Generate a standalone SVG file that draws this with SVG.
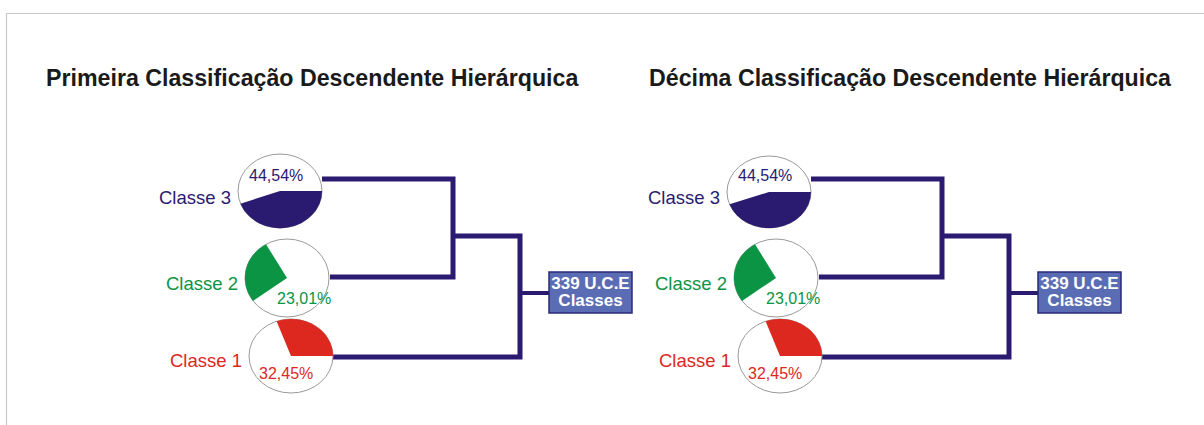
<svg xmlns="http://www.w3.org/2000/svg" width="1204" height="425" viewBox="0 0 1204 425">
<style>
.title{font-family:"Liberation Sans",Arial,sans-serif;font-weight:bold;font-size:23.2px;fill:#1a1a1a}
.lbl{font-family:"Liberation Sans",Arial,sans-serif;font-size:18.5px}
.pct{font-family:"Liberation Sans",Arial,sans-serif;font-size:16px}
.c3{fill:#2a1a70}
.c2{fill:#0b9444}
.c1{fill:#dc281e}
.disc{fill:#fff;stroke:#9a9a9a;stroke-width:1}
.conn{fill:none;stroke:#2a1a70;stroke-width:5;stroke-linejoin:miter}
.conn2{fill:none;stroke:#2a1a70;stroke-width:4}
.box{fill:#5a6db4;stroke:#2a2a78;stroke-width:1.5}
.boxt{font-family:"Liberation Sans",Arial,sans-serif;font-weight:bold;font-size:17px;fill:#fff;text-anchor:middle}
</style>
<rect x="0" y="0" width="1204" height="425" fill="#fff"/>
<path d="M6.5,425 V13.5 H1204" fill="none" stroke="#c8c8c8" stroke-width="1.2"/>
<text class="title" x="46" y="86">Primeira Classificação Descendente Hierárquica</text>
<text class="title" x="649" y="86">Décima Classificação Descendente Hierárquica</text>

<g id="panel-left">
  <g id="connectors-left">
    <path class="conn" d="M322,179 H453 V277 H330"/>
    <path class="conn" d="M453,236 H520 V357 H333"/>
    <path class="conn2" d="M520,293 H549"/>
  </g>
  <g id="classe3-left">
    <ellipse class="disc" cx="280" cy="191" rx="42" ry="37"/>
    <path class="c3" d="M280,191 L322,191 A42,37 0 0 1 240.5,203.7 Z"/>
    <text class="pct c3" x="249" y="181">44,54%</text>
    <text class="lbl c3" x="159" y="204">Classe 3</text>
  </g>
  <g id="classe2-left">
    <ellipse class="disc" cx="287" cy="278" rx="42" ry="39"/>
    <path class="c2" d="M287,278 L253,300.9 A42,39 0 0 1 266,244.2 Z"/>
    <text class="pct c2" x="277" y="304">23,01%</text>
    <text class="lbl c2" x="166" y="290">Classe 2</text>
  </g>
  <g id="classe1-left">
    <ellipse class="disc" cx="291" cy="356" rx="42" ry="37"/>
    <path class="c1" d="M291,356 L276.6,321.2 A42,37 0 0 1 333,356 Z"/>
    <text class="pct c1" x="259" y="379">32,45%</text>
    <text class="lbl c1" x="170" y="367">Classe 1</text>
  </g>
  <g id="root-left">
    <rect class="box" x="549" y="272" width="83" height="41"/>
    <text class="boxt" x="590.5" y="289">339 U.C.E</text>
    <text class="boxt" x="590.5" y="306">Classes</text>
  </g>
</g>

<g id="panel-right" transform="translate(489,0)">
  <g id="connectors-right">
    <path class="conn" d="M322,179 H453 V277 H330"/>
    <path class="conn" d="M453,236 H520 V357 H333"/>
    <path class="conn2" d="M520,293 H549"/>
  </g>
  <g id="classe3-right">
    <ellipse class="disc" cx="280" cy="192" rx="42" ry="36"/>
    <path class="c3" d="M280,192 L322,192 A42,36 0 0 1 240.5,204.3 Z"/>
    <text class="pct c3" x="249" y="181">44,54%</text>
    <text class="lbl c3" x="159" y="204">Classe 3</text>
  </g>
  <g id="classe2-right">
    <ellipse class="disc" cx="287" cy="278" rx="42" ry="39"/>
    <path class="c2" d="M287,278 L253,300.9 A42,39 0 0 1 266,244.2 Z"/>
    <text class="pct c2" x="277" y="304">23,01%</text>
    <text class="lbl c2" x="166" y="290">Classe 2</text>
  </g>
  <g id="classe1-right">
    <ellipse class="disc" cx="291" cy="356" rx="42" ry="37"/>
    <path class="c1" d="M291,356 L276.6,321.2 A42,37 0 0 1 333,356 Z"/>
    <text class="pct c1" x="259" y="379">32,45%</text>
    <text class="lbl c1" x="170" y="367">Classe 1</text>
  </g>
  <g id="root-right">
    <rect class="box" x="549" y="272" width="83" height="41"/>
    <text class="boxt" x="590.5" y="289">339 U.C.E</text>
    <text class="boxt" x="590.5" y="306">Classes</text>
  </g>
</g>
</svg>
